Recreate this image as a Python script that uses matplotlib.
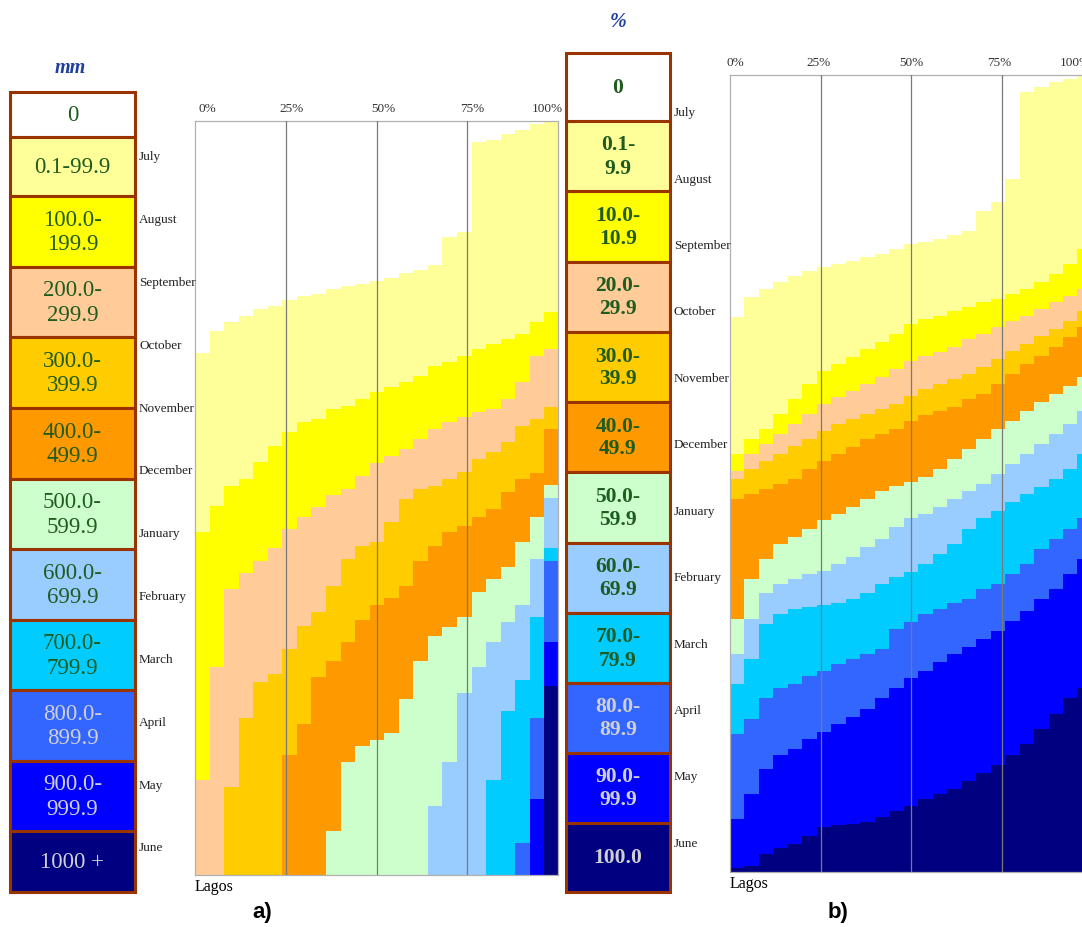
import matplotlib.pyplot as plt
import matplotlib.transforms as mtransforms
import numpy as np
from matplotlib.colors import ListedColormap
from matplotlib.patches import Rectangle

plt.rcParams['font.family'] = ['Liberation Serif', 'DejaVu Serif']

# ---- data -------------------------------------------------------------
months = ['July', 'August', 'September', 'October', 'November', 'December',
          'January', 'February', 'March', 'April', 'May', 'June']

mm_classes = ['0', '0.1-99.9', '100.0-\n199.9', '200.0-\n299.9', '300.0-\n399.9',
              '400.0-\n499.9', '500.0-\n599.9', '600.0-\n699.9', '700.0-\n799.9',
              '800.0-\n899.9', '900.0-\n999.9', '1000 +']
pct_classes = ['0', '0.1-\n9.9', '10.0-\n10.9', '20.0-\n29.9', '30.0-\n39.9',
               '40.0-\n49.9', '50.0-\n59.9', '60.0-\n69.9', '70.0-\n79.9',
               '80.0-\n89.9', '90.0-\n99.9', '100.0']

class_colors = ['#ffffff', '#ffff99', '#ffff00', '#ffcc99', '#ffcc00', '#ff9900',
                '#ccffcc', '#99ccff', '#00ccff', '#3366ff', '#0000ff', '#000080']

# month (from 1 July) at which each class is first reached, 25 percentile columns
NR = 12.5  # not reached before the end of June
mm_onsets = [
    [3.70, 3.34, 3.20, 3.10, 3.00, 2.95, 2.85, 2.79, 2.75, 2.68, 2.63, 2.60, 2.55,
     2.50, 2.42, 2.38, 2.30, 1.85, 1.77, 0.33, 0.30, 0.20, 0.15, 0.05, 0.02],
    [6.54, 6.13, 5.81, 5.70, 5.43, 5.17, 4.95, 4.79, 4.74, 4.58, 4.53, 4.42, 4.31,
     4.23, 4.15, 4.06, 3.90, 3.84, 3.74, 3.63, 3.55, 3.47, 3.39, 3.20, 3.04],
    [10.50, 8.70, 7.45, 7.20, 7.00, 6.80, 6.50, 6.30, 6.14, 5.95, 5.86, 5.65, 5.45,
     5.33, 5.22, 5.06, 4.90, 4.79, 4.71, 4.63, 4.58, 4.42, 4.15, 3.74, 3.63],
    [NR, NR, 10.60, 9.50, 8.93, 8.80, 8.40, 8.04, 7.82, 7.40, 6.97, 6.76, 6.70,
     6.38, 6.02, 5.86, 5.81, 5.70, 5.59, 5.38, 5.27, 5.11, 4.85, 4.74, 4.55],
    [NR, NR, NR, NR, NR, NR, 10.10, 9.60, 8.85, 8.60, 8.30, 7.95, 7.70,
     7.60, 7.40, 7.00, 6.76, 6.55, 6.45, 6.30, 6.18, 5.90, 5.70, 5.60, 4.90],
    [NR, NR, NR, NR, NR, NR, NR, NR, NR, 11.30, 10.20, 9.95, 9.85,
     9.75, 9.20, 8.60, 8.20, 8.05, 7.90, 7.50, 7.30, 7.10, 6.70, 6.30, 5.80],
    [NR, NR, NR, NR, NR, NR, NR, NR, NR, NR, NR, NR, NR,
     NR, NR, NR, 10.90, 10.20, 9.10, 8.70, 8.30, 7.97, 7.70, 6.97, 6.00],
    [NR, NR, NR, NR, NR, NR, NR, NR, NR, NR, NR, NR, NR,
     NR, NR, NR, NR, NR, NR, NR, 10.50, 9.40, 8.90, 7.90, 6.80],
    [NR, NR, NR, NR, NR, NR, NR, NR, NR, NR, NR, NR, NR,
     NR, NR, NR, NR, NR, NR, NR, NR, NR, 11.50, 9.50, 7.00],
    [NR, NR, NR, NR, NR, NR, NR, NR, NR, NR, NR, NR, NR,
     NR, NR, NR, NR, NR, NR, NR, NR, NR, NR, 10.80, 8.30],
    [NR, NR, NR, NR, NR, NR, NR, NR, NR, NR, NR, NR, NR,
     NR, NR, NR, NR, NR, NR, NR, NR, NR, NR, NR, 9.00],
]
pct_onsets = [
    [3.64, 3.34, 3.22, 3.12, 3.03, 2.95, 2.89, 2.85, 2.80, 2.74, 2.70, 2.62, 2.54,
     2.51, 2.47, 2.41, 2.35, 2.05, 1.91, 1.57, 0.26, 0.18, 0.11, 0.06, 0.02],
    [5.71, 5.48, 5.33, 5.10, 4.88, 4.65, 4.46, 4.35, 4.25, 4.13, 4.02, 3.90, 3.75,
     3.67, 3.63, 3.55, 3.49, 3.42, 3.37, 3.30, 3.22, 3.12, 3.00, 2.85, 2.62],
    [5.96, 5.71, 5.56, 5.41, 5.25, 5.10, 4.95, 4.85, 4.76, 4.65, 4.55, 4.43, 4.31,
     4.23, 4.17, 4.10, 3.97, 3.90, 3.79, 3.70, 3.63, 3.52, 3.42, 3.33, 3.22],
    [6.08, 5.93, 5.81, 5.71, 5.59, 5.48, 5.36, 5.25, 5.18, 5.10, 5.03, 4.95, 4.83,
     4.73, 4.65, 4.58, 4.50, 4.40, 4.28, 4.16, 4.05, 3.93, 3.82, 3.70, 3.55],
    [6.38, 6.31, 6.23, 6.16, 6.08, 5.93, 5.81, 5.71, 5.60, 5.48, 5.41, 5.33, 5.21,
     5.12, 5.06, 5.00, 4.88, 4.80, 4.65, 4.50, 4.35, 4.23, 4.10, 3.94, 3.79],
    [8.19, 7.59, 7.29, 7.06, 6.96, 6.84, 6.71, 6.61, 6.50, 6.38, 6.26, 6.19, 6.13,
     6.05, 5.93, 5.78, 5.63, 5.48, 5.33, 5.21, 5.06, 4.92, 4.80, 4.68, 4.55],
    [8.72, 8.19, 7.81, 7.66, 7.59, 7.51, 7.47, 7.36, 7.26, 7.11, 6.99, 6.81, 6.68,
     6.61, 6.50, 6.38, 6.26, 6.16, 6.01, 5.86, 5.71, 5.56, 5.41, 5.25, 5.06],
    [9.17, 8.79, 8.27, 8.12, 8.04, 8.01, 7.99, 7.96, 7.89, 7.81, 7.66, 7.56, 7.48,
     7.36, 7.21, 7.06, 6.84, 6.68, 6.56, 6.43, 6.31, 6.20, 6.08, 5.93, 5.71],
    [9.92, 9.70, 9.39, 9.24, 9.17, 9.06, 8.97, 8.87, 8.79, 8.72, 8.64, 8.34, 8.24,
     8.12, 8.04, 7.96, 7.89, 7.74, 7.66, 7.51, 7.36, 7.14, 6.99, 6.84, 6.68],
    [11.20, 10.83, 10.45, 10.25, 10.15, 10.00, 9.89, 9.77, 9.67, 9.55, 9.39, 9.24, 9.09,
     8.97, 8.84, 8.72, 8.61, 8.49, 8.37, 8.22, 8.07, 7.89, 7.74, 7.51, 7.29],
    [11.95, 11.92, 11.73, 11.65, 11.58, 11.47, 11.32, 11.29, 11.28, 11.25, 11.17, 11.08, 11.01,
     10.90, 10.83, 10.75, 10.64, 10.52, 10.40, 10.25, 10.07, 9.85, 9.62, 9.39, 9.24],
]

# ---- layout helpers (pixel based) -------------------------------------
W, H = 1082, 928
fig = plt.figure(figsize=(W / 100, H / 100), dpi=100)


def fbox(x0, y0, x1, y1):
    return [x0 / W, 1 - y1 / H, (x1 - x0) / W, (y1 - y0) / H]


cmap = ListedColormap(class_colors)
green = '#1f5c1f'
grey_txt = '#d0d0d0'


def draw_panel(ax, onsets, tick_x, month_x):
    on = np.maximum.accumulate(np.array(onsets, dtype=float), axis=0)
    yc = np.linspace(0, 12, 2401)
    classes = (on[:, None, :] <= yc[None, :, None]).sum(axis=0)
    ax.imshow(classes, cmap=cmap, vmin=-0.5, vmax=11.5, aspect='auto',
              interpolation='nearest', extent=[0, 100, 12, 0], origin='upper')
    ax.set_xlim(0, 100)
    ax.set_ylim(12, 0)
    for xv in (25, 50, 75):
        ax.axvline(xv, color='#7a7a7a', lw=0.9, zorder=3)
    for s in ax.spines.values():
        s.set_color('#b0b0b0')
        s.set_linewidth(0.9)
    ax.set_xticks([])
    ax.set_yticks([])
    for xv, lab in zip(tick_x, ['0%', '25%', '50%', '75%', '100%']):
        ax.text(xv, -0.2, lab, ha='center', va='center', fontsize=9.5,
                color='#333333', clip_on=False)
    ax.text(0, 12.17, 'Lagos', ha='left', va='center', fontsize=11.5, clip_on=False)
    tr = mtransforms.blended_transform_factory(fig.transFigure, ax.transData)
    for i, m in enumerate(months):
        fig.text(month_x / W, i + 0.56, m, transform=tr, ha='left', va='center',
                 fontsize=9.5, color='#222222')


def draw_legend(x0, x1, ys, labels, bold, size):
    for k, lab in enumerate(labels):
        y0, y1 = ys[k], ys[k + 1]
        fig.add_artist(Rectangle((x0 / W, 1 - y1 / H), (x1 - x0) / W, (y1 - y0) / H,
                                 transform=fig.transFigure, facecolor=class_colors[k],
                                 edgecolor='#993300', lw=2.2))
        fig.text((x0 + x1) / 2 / W, 1 - (y0 + y1) / 2 / H, lab, ha='center',
                 va='center', fontsize=size, linespacing=1.2,
                 fontweight='bold' if bold else 'normal',
                 color=grey_txt if k >= 9 else green)


ax_a = fig.add_axes(fbox(195, 122, 558, 876))
ax_b = fig.add_axes(fbox(730, 76, 1092, 873))

draw_panel(ax_a, mm_onsets, [3.5, 26.5, 52, 76.5, 97], 139)
draw_panel(ax_b, pct_onsets, [1.5, 24.5, 50, 74.5, 95.5], 674)

draw_legend(10, 135, [93, 138, 197, 268, 338, 409, 480, 550, 621, 691, 762, 832, 893],
            mm_classes, bold=False, size=16.5)
draw_legend(566, 670, [54, 122, 192, 263, 333, 403, 473, 544, 614, 684, 754, 824, 893],
            pct_classes, bold=True, size=15.5)

fig.text(70 / W, 1 - 68 / H, 'mm', ha='center', va='center', fontsize=14.5,
         fontweight='bold', style='italic', color='#1f3fa0')
fig.text(618 / W, 1 - 22 / H, '%', ha='center', va='center', fontsize=14.5,
         fontweight='bold', style='italic', color='#1f3fa0')

fig.text(262 / W, 1 - 913 / H, 'a)', ha='center', va='center', fontsize=16,
         fontweight='bold', family=['Liberation Sans', 'DejaVu Sans'])
fig.text(838 / W, 1 - 913 / H, 'b)', ha='center', va='center', fontsize=16,
         fontweight='bold', family=['Liberation Sans', 'DejaVu Sans'])

fig.savefig('out.png', dpi=100)
